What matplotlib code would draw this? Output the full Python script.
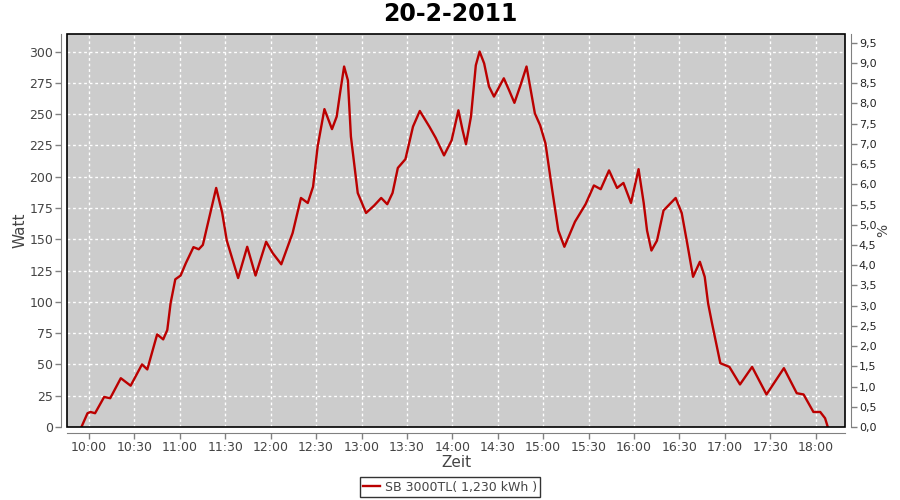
import numpy as np
import matplotlib.pyplot as plt
from matplotlib.patches import Rectangle
from matplotlib.ticker import FuncFormatter

# minutes after 10:00 and power in watt
minutes = [-5, -1, 1, 4, 10, 14, 21, 27.5, 35, 38.5, 45, 49, 51.7, 53.9, 57, 60.5,
           64, 69, 72.5, 75.2, 78, 84, 88, 91, 98.5, 104.5, 110, 117, 121.3, 127,
           134.5, 140, 144.5, 148, 151, 155.5, 160.5, 163.6, 165.8, 168.5, 171, 173,
           177.5, 183, 188.4, 193, 197, 200.5, 204, 209, 214, 218.5, 224.8, 229,
           234.5, 239.5, 244, 246.8, 249, 252.3, 255.5, 258, 261, 264.2, 267.5, 274,
           277.5, 281, 285, 289, 291.8, 294.5, 298, 301.5, 306, 310, 314, 321, 328,
           333.5, 338, 343.5, 348.8, 353, 358, 363, 366.4, 368.6, 371.5, 375.2, 379.5,
           387.5, 391.5, 395.1, 399, 403.5, 406.7, 408.9, 411.5, 417, 423, 430, 438,
           447.5, 459, 467.5, 472, 478.5, 483, 486.2, 488]
watt = [0, 11, 12, 11, 24, 23, 39, 33, 50, 46, 74, 70, 77.5, 99, 118, 121,
        131, 143.7, 142, 145.5, 160, 191, 171, 149, 119, 144, 121, 148, 139, 130,
        155, 183, 179, 192, 224, 254, 238, 248, 266.6, 288, 277, 232,
        187, 171, 177, 183, 178, 187, 207, 214, 240, 252.5, 240, 231,
        217, 229, 253, 237, 226, 248, 289, 300, 290.5, 272, 264, 278.6,
        269, 259, 273, 288, 269, 250.6, 241, 226.6, 189, 157, 144, 164, 178,
        193, 190, 205, 191, 195, 179, 206, 179, 157, 141, 149, 173,
        183, 171, 147, 120, 132, 120, 99, 83, 51, 48, 34, 48,
        26, 47, 27, 26, 12, 12, 7, 0]

tick_hours = np.arange(10, 18.01, 0.5)
tick_labels = ["%d:%02d" % (int(h), int(round((h % 1) * 60))) for h in tick_hours]

x = 10 + np.array(minutes) / 60.0

fig = plt.figure(figsize=(9, 5), dpi=100)
ax = fig.add_axes([67 / 900, 1 - 427 / 500, (845 - 67) / 900, (427 - 34) / 500])
ax.set_facecolor("#cccccc")

ax.plot(x, watt, color="#bb0000", lw=1.7, solid_joinstyle="round",
        label="SB 3000TL( 1,230 kWh )", zorder=3)

ax.set_xlim(10 - 22 / 90.8, 18 + 29.3 / 90.8)
ax.set_ylim(0, 314)
ax.set_xticks(tick_hours)
ax.set_xticklabels(tick_labels)
ax.set_yticks(np.arange(0, 301, 25))
ax.grid(True, color="white", linestyle=(0, (2, 2)), linewidth=1)
ax.set_axisbelow(True)

ax2 = ax.twinx()
ax2.set_ylim(0, 393 / (364 / 9.0))
ax2.set_yticks(np.arange(0, 9.51, 0.5))
ax2.yaxis.set_major_formatter(FuncFormatter(lambda v, p: ("%.1f" % v).replace(".", ",")))

gray = "#808080"
for a in (ax, ax2):
    for s in a.spines.values():
        s.set_visible(False)
    a.tick_params(colors=gray, labelcolor="#444444", labelsize=9, length=4,
                  width=1, pad=2)
ax.spines["left"].set_visible(True)
ax.spines["bottom"].set_visible(True)
ax.spines["left"].set_position(("outward", 4))
ax.spines["bottom"].set_position(("outward", 4))
ax2.spines["right"].set_visible(True)
ax2.spines["right"].set_position(("outward", 4))
for s in ("left", "bottom"):
    ax.spines[s].set_color(gray)
ax2.spines["right"].set_color(gray)
ax2.tick_params(labelsize=8, labelcolor="#222222")

# black frame of the plot area
ax.add_patch(Rectangle((0, 0), 1, 1, transform=ax.transAxes, fill=False,
                       edgecolor="black", lw=1.2, zorder=5, clip_on=False))

ax.set_ylabel("Watt", fontsize=11, color="#444444", labelpad=1)
ax.set_xlabel("Zeit", fontsize=11, color="#444444", labelpad=1)
ax2.set_ylabel("%", fontsize=10, color="#444444", labelpad=0)
fig.text(0.5, 1 - 14 / 500, "20-2-2011", ha="center", va="center",
         fontsize=17, fontweight="bold")

leg = ax.legend(loc="center", bbox_to_anchor=(0.5, 1 - 487 / 500),
                bbox_transform=fig.transFigure, fontsize=9, frameon=True,
                fancybox=False, handlelength=1.3, handletextpad=0.4,
                borderpad=0.3, borderaxespad=0)
leg.get_frame().set_edgecolor("black")
leg.get_frame().set_linewidth(1)
for t in leg.get_texts():
    t.set_color("#444444")

fig.savefig("out.png", dpi=100)
